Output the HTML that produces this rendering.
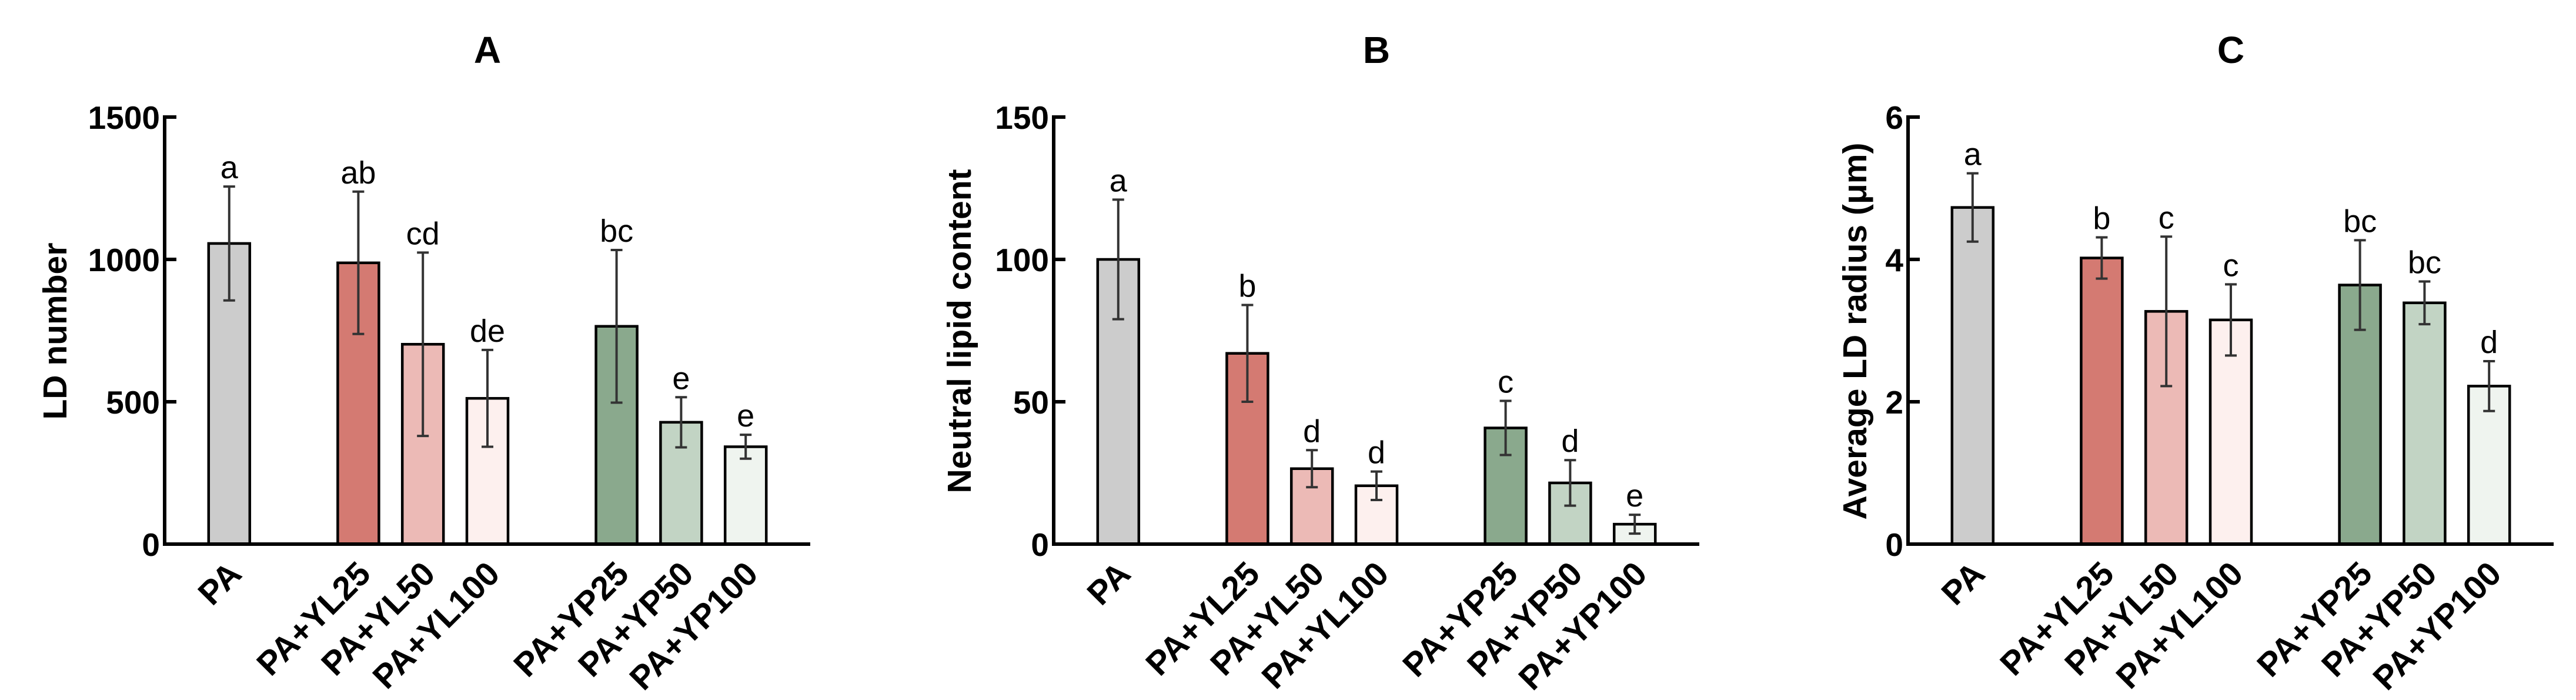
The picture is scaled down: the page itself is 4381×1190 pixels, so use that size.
<!DOCTYPE html>
<html><head><meta charset="utf-8"><style>
html,body{margin:0;padding:0;background:#fff;}
svg{display:block;}
text{font-family:"Liberation Sans",Arial,sans-serif;}
</style></head>
<body>
<svg id="fig" width="4381" height="1190" viewBox="0 0 4381 1190" xmlns="http://www.w3.org/2000/svg"></svg>
<script>
const categories = ["PA","PA+YL25","PA+YL50","PA+YL100","PA+YP25","PA+YP50","PA+YP100"];
const slotIndex = [0,2,3,4,6,7,8];
const colors = ["#cccccc","#d47a72","#ecbab6","#fdf0ee","#8aa98d","#c2d4c4","#eff4ef"];

const aValues = [1056,988,702,512,765,428,342];
const aErrors = [200,250,322,170,268,88,42];
const aLetters = ["a","ab","cd","de","bc","e","e"];
const aTicks = [0,500,1000,1500];

const bValues = [100,67,26.5,20.5,40.8,21.5,7];
const bErrors = [21,17,6.5,5,9.5,8,3.3];
const bLetters = ["a","b","d","d","c","d","e"];
const bTicks = [0,50,100,150];

const cValues = [4.73,4.02,3.27,3.15,3.64,3.39,2.22];
const cErrors = [0.48,0.29,1.05,0.5,0.63,0.3,0.35];
const cLetters = ["a","b","c","c","bc","bc","d"];
const cTicks = [0,2,4,6];

const panels = [
  {id:"a", title:"A", ytitle:"LD number", x0:280, ymax:1500, values:aValues, errors:aErrors, letters:aLetters, ticks:aTicks, ytx:93},
  {id:"b", title:"B", ytitle:"Neutral lipid content", x0:1792, ymax:150, values:bValues, errors:bErrors, letters:bLetters, ticks:bTicks, ytx:1631},
  {id:"c", title:"C", ytitle:"Average LD radius (\u03bcm)", x0:3245, ymax:6, values:cValues, errors:cErrors, letters:cLetters, ticks:cTicks, ytx:3154}
];

const NS = "http://www.w3.org/2000/svg";
const svg = document.getElementById("fig");
function mk(tag, attrs, parent){
  const e = document.createElementNS(NS, tag);
  for (const k in attrs) e.setAttribute(k, attrs[k]);
  (parent||svg).appendChild(e);
  return e;
}
const Y0 = 925, YTOP = 199, SLOT = 109.8, BW = 70;

panels.forEach(p => {
  const g = mk("g", {});
  
  
  const yS = v => Y0 - (v / p.ymax) * (Y0 - YTOP);
  const xS = i => p.x0 + (slotIndex[i] + 1) * SLOT;
  const xEnd = p.x0 + 10 * SLOT;

  const t = mk("text", {x:(p.x0+xEnd)/2, y:107, "text-anchor":"middle", "font-size":64, "font-weight":"bold"}, g);
  t.textContent = p.title;
  
  

  const yt = mk("text", {x:0, y:0, "text-anchor":"middle", "font-size":57, "font-weight":"bold", transform:`translate(${p.ytx+20},563) rotate(-90)`}, g);
  yt.textContent = p.ytitle;
  
  

  p.values.forEach((v, i) => {
    const cx = xS(i);
    const r = mk("rect", {x:cx-BW/2, y:yS(v), width:BW, height:Y0-yS(v), fill:colors[i], stroke:"#000", "stroke-width":4.5}, g);
    
    
    const hi = yS(v + p.errors[i]), lo = yS(v - p.errors[i]);
    const eg = mk("g", {stroke:"#333", "stroke-width":4}, g);
    
    
    mk("line", {x1:cx, x2:cx, y1:hi, y2:lo}, eg);
    mk("line", {x1:cx-10, x2:cx+10, y1:hi, y2:hi}, eg);
    mk("line", {x1:cx-10, x2:cx+10, y1:lo, y2:lo}, eg);
    const lt = mk("text", {x:cx, y:hi-14, "text-anchor":"middle", "font-size":54}, g);
    lt.textContent = p.letters[i];
    
    
    const cl = mk("text", {x:0, y:0, "text-anchor":"end", "font-size":57, "font-weight":"bold", transform:`translate(${cx+24},${Y0+54}) rotate(-45)`}, g);
    cl.textContent = categories[i];
    
    
  });

  const ya = mk("line", {x1:p.x0, x2:p.x0, y1:YTOP-3, y2:Y0+3, stroke:"#000", "stroke-width":6}, g);
  
  
  const xa = mk("line", {x1:p.x0-3, x2:xEnd, y1:Y0, y2:Y0, stroke:"#000", "stroke-width":6}, g);
  
  
  p.ticks.forEach(tv => {
    const y = yS(tv);
    const tk = mk("line", {x1:p.x0, x2:p.x0+20, y1:y, y2:y, stroke:"#000", "stroke-width":6}, g);
    
    
    const tl = mk("text", {x:p.x0-8, y:y+20, "text-anchor":"end", "font-size":55, "font-weight":"bold"}, g);
    tl.textContent = tv;
    
    
  });
});
</script>
</body></html>
